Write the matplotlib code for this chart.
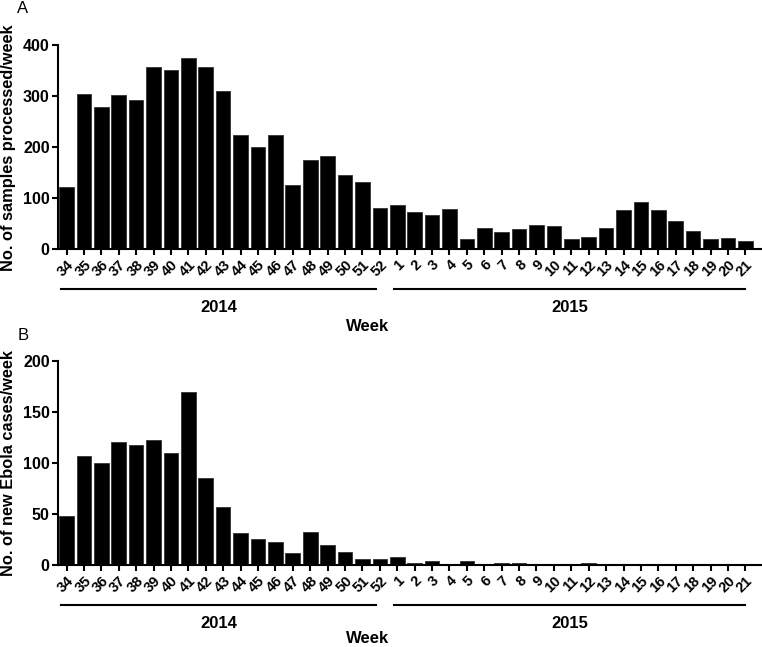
import matplotlib
matplotlib.use("Agg")
import matplotlib.pyplot as plt
import matplotlib.transforms as mtransforms

plt.rcParams['font.family'] = ['Liberation Sans', 'DejaVu Sans']

weeks = [str(w) for w in range(34, 53)] + [str(w) for w in range(1, 22)]

samples = [121, 305, 278, 302, 292, 357, 352, 375, 358, 311,
           224, 200, 223, 126, 174, 182, 146, 131, 80,
           86, 72, 67, 78, 20, 42, 33, 40, 48, 46,
           20, 24, 42, 76, 92, 76, 55, 35, 20, 22, 16]

cases = [48, 107, 100, 121, 118, 123, 110, 170, 85, 57,
         31, 26, 23, 12, 32, 20, 13, 6, 6,
         8, 2, 4, 0, 4, 0, 2, 2, 0, 0,
         0, 2, 0, 0, 0, 0, 0, 0, 0, 0, 0]

years = ['2014', '2015']
year_spans = [(-0.3, 17.8), (18.8, 39.0)]

fig = plt.figure(figsize=(7.62, 6.47), dpi=100)
ax_a = fig.add_axes([0.0761, 0.615, 0.9226, 0.315])
ax_b = fig.add_axes([0.0761, 0.1267, 0.9226, 0.315])


def draw_panel(ax, values, ymax, step, ylabel, letter, letter_y, week_y):
    x = list(range(len(values)))
    ax.bar(x, values, width=0.84, color='black', edgecolor='#333333', linewidth=0.6)
    ax.set_xlim(-0.49, 39.9)
    ax.set_ylim(0, ymax)
    ax.set_yticks(range(0, ymax + 1, step))
    ax.set_xticks(x)
    ax.set_xticklabels(weeks, rotation=45, ha='right', rotation_mode='anchor',
                       fontsize=10.5, fontweight='bold')
    for lab in ax.get_yticklabels():
        lab.set_fontsize(11.5)
        lab.set_fontweight('bold')
    ax.spines['top'].set_visible(False)
    ax.spines['right'].set_visible(False)
    for s in ('left', 'bottom'):
        ax.spines[s].set_linewidth(1.5)
    ax.tick_params(direction='out', length=4, width=1.5, pad=2)
    ax.set_ylabel(ylabel, fontsize=11.8, fontweight='bold', labelpad=5)

    trans = mtransforms.blended_transform_factory(ax.transData, ax.transAxes)
    for year, (x0, x1) in zip(years, year_spans):
        ax.plot([x0, x1], [-0.195, -0.195], color='black', lw=1.5,
                transform=trans, clip_on=False)
        ax.text((x0 + x1) / 2, -0.285, year, transform=trans, ha='center',
                va='center', fontsize=12, fontweight='bold')
    ax.text(0.44, week_y, 'Week', transform=ax.transAxes, ha='center',
            va='center', fontsize=12, fontweight='bold')
    fig.text(0.03, letter_y, letter, fontsize=12, ha='center', va='center')


draw_panel(ax_a, samples, 400, 100, 'No. of samples processed/week', 'A', 0.987, -0.38)
draw_panel(ax_b, cases, 200, 50, 'No. of new Ebola cases/week', 'B', 0.482, -0.36)

fig.savefig('out.png', dpi=100)
